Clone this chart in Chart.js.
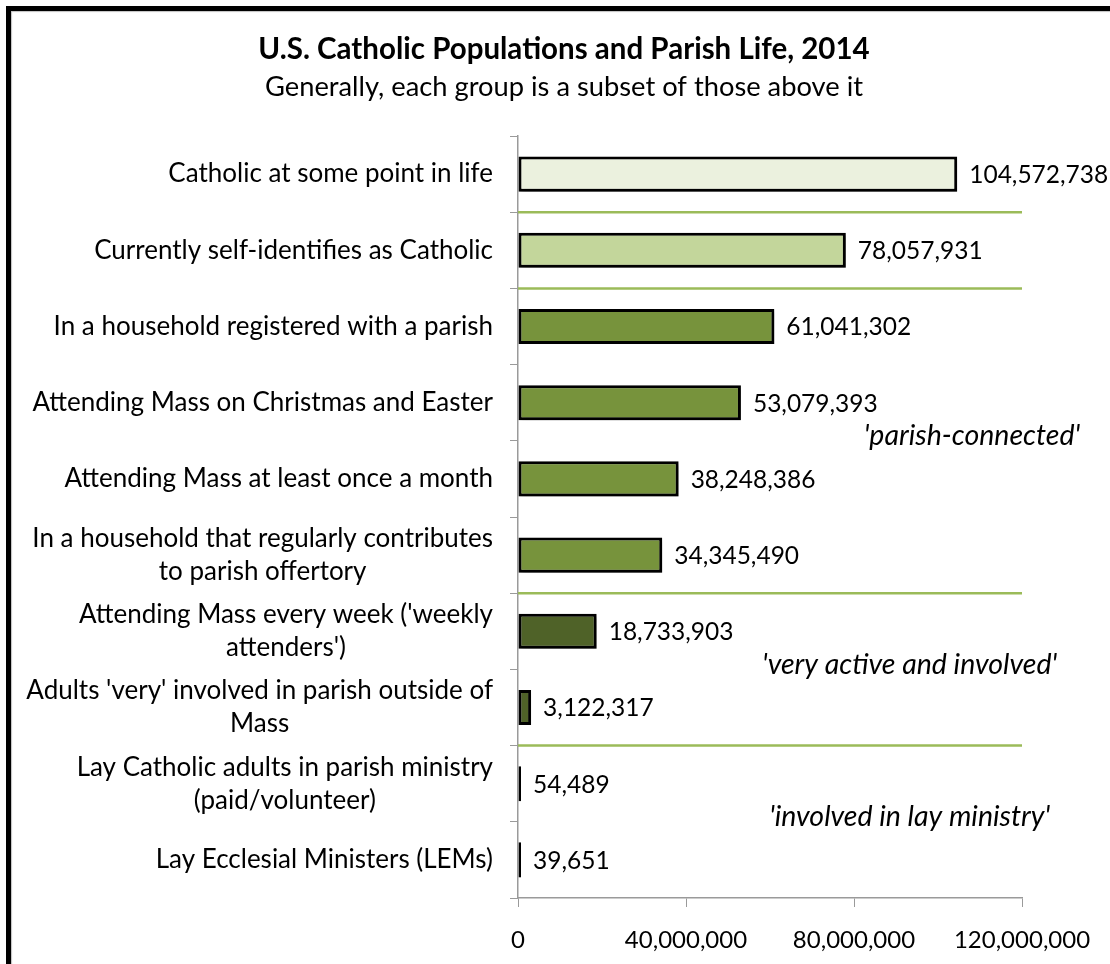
<!DOCTYPE html>
<html>
<head>
<meta charset="utf-8">
<script src="https://cdn.jsdelivr.net/npm/chart.js@4.4.1/dist/chart.umd.min.js"></script>
<style>
  html, body { margin: 0; padding: 0; background: #fff; }
  #wrap { position: relative; width: 1110px; height: 964px; overflow: hidden; }
  #frame { position: absolute; left: 6px; top: 6px; width: 1200px; height: 1100px;
           border-top: 5px solid #000; border-left: 5px solid #000;
           box-shadow: inset 1px 1px 1px rgba(0,0,0,0.25); }
  canvas { position: absolute; left: 0; top: 0; }
</style>
</head>
<body>
<div id="wrap">
  <div id="frame"></div>
  <canvas id="chart" width="1110" height="964"></canvas>
</div>
<script>
// data
const categories = [
  ['Catholic at some point in life'],
  ['Currently self-identifies as Catholic'],
  ['In a household registered with a parish'],
  ['Attending Mass on Christmas and Easter'],
  ['Attending Mass at least once a month'],
  ['In a household that regularly contributes', 'to parish offertory'],
  ["Attending Mass every week ('weekly", "attenders')"],
  ["Adults 'very' involved in parish outside of", 'Mass'],
  ['Lay Catholic adults in parish ministry', '(paid/volunteer)'],
  ['Lay Ecclesial Ministers (LEMs)']
];
const populations = [104572738, 78057931, 61041302, 53079393, 38248386,
                     34345490, 18733903, 3122317, 54489, 39651];
const barColors = ['#EBF1DE', '#C3D69B', '#77933C', '#77933C', '#77933C',
                   '#77933C', '#4F6228', '#4F6228', '#4F6228', '#4F6228'];
const xTicks = [0, 40000000, 80000000, 120000000];
// green lines drawn under these category indexes
const separatorsAfter = [0, 1, 5, 7];
const groupNotes = ["'parish-connected'", "'very active and involved'", "'involved in lay ministry'"];
const noteAfter = [3, 6, 8];

const titleText = 'U.S. Catholic Populations and Parish Life, 2014';
const subtitleText = 'Generally, each group is a subset of those above it';

const FONT = 'Lato, "Open Sans", sans-serif';
const fmt = v => v.toLocaleString('en-US');

const extras = {
  id: 'extras',
  beforeDatasetsDraw(chart) {
    const { ctx, chartArea, scales: { y } } = chart;
    ctx.save();
    ctx.strokeStyle = '#9BBB59';
    ctx.lineWidth = 2.5;
    separatorsAfter.forEach(i => {
      const yy = (y.getPixelForValue(i) + y.getPixelForValue(i + 1)) / 2;
      ctx.beginPath();
      ctx.moveTo(chartArea.left, yy);
      ctx.lineTo(chartArea.right, yy);
      ctx.stroke();
    });
    ctx.restore();
  },
  afterDraw(chart) {
    const { ctx, chartArea, scales: { y } } = chart;
    ctx.save();
    // title
    ctx.fillStyle = '#000';
    ctx.textAlign = 'center';
    ctx.textBaseline = 'middle';
    ctx.font = 'bold 29.5px ' + FONT;
    ctx.fillText(titleText, 564, 49);
    ctx.font = '27.3px ' + FONT;
    ctx.fillText(subtitleText, 564, 87);

    // category labels: block right-aligned, lines centred in block
    ctx.font = '26px ' + FONT;
    const lineH = 33;
    categories.forEach((lines, i) => {
      const cy = y.getPixelForValue(i);
      const w = Math.max(...lines.map(l => ctx.measureText(l).width));
      const cx = chartArea.left - 25 - w / 2;
      lines.forEach((l, k) => {
        ctx.fillText(l, cx, cy + (k - (lines.length - 1) / 2) * lineH);
      });
    });

    // value labels
    ctx.font = '24.5px ' + FONT;
    ctx.textAlign = 'left';
    const meta = chart.getDatasetMeta(0);
    meta.data.forEach((bar, i) => {
      ctx.fillText(fmt(populations[i]), bar.x + 12, bar.y + 1);
    });

    // group notes
    ctx.font = 'italic 28.5px ' + FONT;
    ctx.textAlign = 'right';
    const noteRight = [1080, 1057, 1050];
    groupNotes.forEach((t, k) => {
      const i = noteAfter[k];
      const yy = (y.getPixelForValue(i) + y.getPixelForValue(i + 1)) / 2 - 5;
      ctx.fillText(t, noteRight[k], yy);
    });
    ctx.restore();
  }
};

const shadow = {
  id: 'shadow',
  beforeDatasetDraw(chart) {
    const c = chart.ctx;
    c.save();
    c.shadowColor = 'rgba(0,0,0,0.35)';
    c.shadowBlur = 4;
    c.shadowOffsetX = 2;
    c.shadowOffsetY = 3;
  },
  afterDatasetDraw(chart) { chart.ctx.restore(); }
};

new Chart(document.getElementById('chart'), {
  type: 'bar',
  data: {
    labels: categories,
    datasets: [{
      data: populations,
      backgroundColor: barColors,
      borderColor: '#000',
      borderWidth: 3,
      borderSkipped: false,
      minBarLength: 3,
      barPercentage: 0.46,
      categoryPercentage: 1
    }]
  },
  options: {
    indexAxis: 'y',
    responsive: false,
    animation: false,
    layout: { padding: { top: 136, right: 88, left: 0, bottom: 0 } },
    plugins: { legend: { display: false }, tooltip: { enabled: false } },
    scales: {
      x: {
        min: 0, max: 120000000,
        afterBuildTicks: s => { s.ticks = xTicks.map(v => ({ value: v })); },
        afterFit: s => { s.height = 66; },
        grid: { drawOnChartArea: false, drawTicks: true, tickLength: 9, color: '#9a9a9a' },
        border: { color: '#9a9a9a', width: 1.5 },
        ticks: { color: '#000', font: { family: FONT, size: 24 }, padding: 19,
                 maxRotation: 0, callback: v => fmt(v) }
      },
      y: {
        afterFit: s => { s.width = 518; },
        grid: { offset: true, drawOnChartArea: false, drawTicks: true, tickLength: 8, color: '#9a9a9a' },
        border: { color: '#9a9a9a', width: 1.5 },
        ticks: { display: false }
      }
    }
  },
  plugins: [shadow, extras]
});
</script>
</body>
</html>
